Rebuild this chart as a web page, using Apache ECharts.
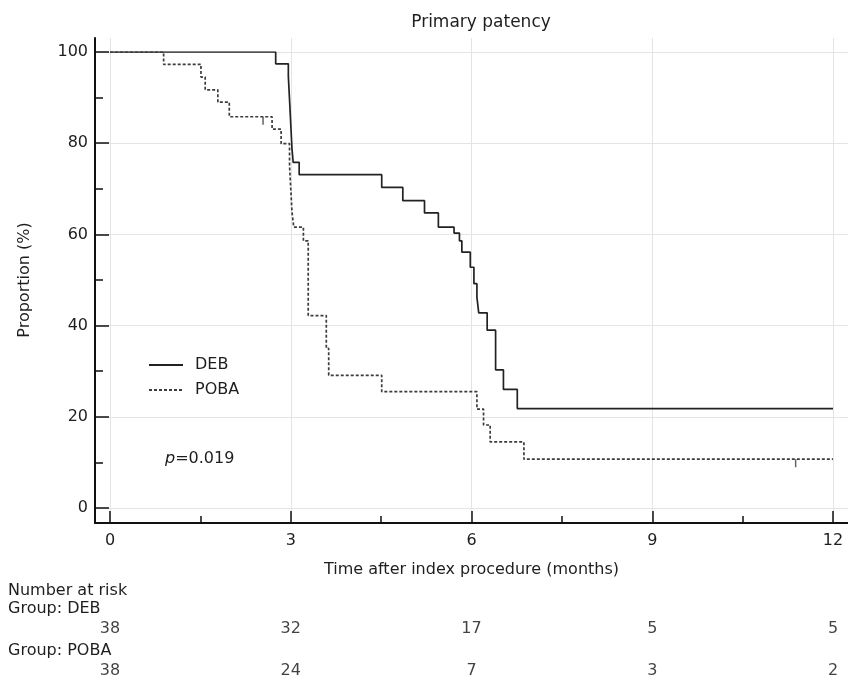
<!DOCTYPE html>
<html>
<head>
<meta charset="utf-8">
<script src="https://cdn.jsdelivr.net/npm/echarts@6/dist/echarts.min.js"></script>
<style>html,body{margin:0;padding:0;background:#fff}#c{width:848px;height:693px}</style>
</head>
<body>
<div id="c"></div>
<script>
// ---- data ----
const monthTicks = [0, 3, 6, 9, 12];
const proportionTicks = [0, 20, 40, 60, 80, 100];
const groups = ['DEB', 'POBA'];

const debTime = [0, 2.75, 2.96, 2.98, 3.00, 3.02, 3.04, 3.14, 4.51, 4.86, 5.22, 5.45, 5.71, 5.80, 5.84, 5.98, 6.04, 6.09, 6.12, 6.26, 6.40, 6.53, 6.76, 12];
const debSurv = [100, 97.4, 94.7, 89.5, 84.2, 78.9, 75.8, 73.1, 70.3, 67.4, 64.7, 61.6, 60.3, 58.6, 56.1, 52.8, 49.2, 46.2, 42.8, 39.0, 30.3, 26.0, 21.8, 21.8];

const pobaTime = [0, 0.89, 1.51, 1.58, 1.79, 1.98, 2.69, 2.84, 2.98, 3.00, 3.02, 3.05, 3.21, 3.29, 3.59, 3.63, 4.51, 6.09, 6.20, 6.31, 6.87, 12];
const pobaSurv = [100, 97.3, 94.5, 91.7, 89.0, 85.8, 83.1, 79.9, 75.0, 70.0, 65.0, 61.6, 58.6, 42.2, 35.0, 29.1, 25.5, 21.7, 18.2, 14.5, 10.7, 10.7];

const pobaCensorTime = [2.54, 11.38];
const pobaCensorSurv = [85.8, 10.7];

const debAtRisk = [38, 32, 17, 5, 5];
const pobaAtRisk = [38, 24, 7, 3, 2];

// ---- build ----
const FONT = 'DejaVu Sans';
const TXT = '#1e1e1e';
const zip = (a, b) => a.map((v, i) => [v, b[i]]);

const chart = echarts.init(document.getElementById('c'), null, {renderer: 'canvas'});
chart.setOption({
  animation: false,
  backgroundColor: '#fff',
  title: {
    text: 'Primary patency', left: 476, top: 9, textAlign: 'center',
    textStyle: {fontFamily: FONT, fontSize: 17, fontWeight: 'normal', color: TXT}
  },
  legend: {
    data: groups, orient: 'vertical', left: 143, top: 352,
    itemWidth: 34, itemHeight: 14, itemGap: 9,
    itemStyle: {opacity: 0, borderWidth: 0},
    textStyle: {fontFamily: FONT, fontSize: 16, color: TXT, padding: [0, 0, 0, 7]}
  },
  grid: [
    {left: 110, right: 15, top: 52, bottom: 185},
    {left: 95, right: 0, top: 38, bottom: 170},
    {left: 110, right: 15, top: 629, bottom: 22}
  ],
  xAxis: [
    {
      gridIndex: 0, type: 'value', min: 0, max: 12, interval: 3, offset: 15,
      axisLine: {show: true, onZero: false, lineStyle: {color: '#111', width: 2}},
      axisTick: {show: true, inside: true, length: 12, lineStyle: {color: '#111', width: 1.5}},
      minorTick: {show: true, splitNumber: 2, length: 7, lineStyle: {color: '#111', width: 1.5}},
      axisLabel: {margin: 10, fontFamily: FONT, fontSize: 16, color: TXT},
      splitLine: {show: false},
      name: 'Time after index procedure (months)', nameLocation: 'middle', nameGap: 39,
      nameTextStyle: {fontFamily: FONT, fontSize: 16, color: TXT}
    },
    {
      gridIndex: 1, type: 'value', min: -0.249, max: 12.249,
      axisLine: {show: true, onZero: false, lineStyle: {color: '#111', width: 2}},
      axisTick: {show: false, customValues: monthTicks},
      axisLabel: {show: false, customValues: monthTicks},
      splitLine: {show: true, lineStyle: {color: '#e4e4e4', width: 1}}
    },
    {
      gridIndex: 2, type: 'value', min: 0, max: 12, show: false
    }
  ],
  yAxis: [
    {
      gridIndex: 0, type: 'value', min: 0, max: 100, interval: 20, offset: 15,
      axisLine: {show: true, onZero: false, lineStyle: {color: '#111', width: 2}},
      axisTick: {show: true, inside: true, length: 14, lineStyle: {color: '#111', width: 1.5}},
      minorTick: {show: true, splitNumber: 2, length: 8, lineStyle: {color: '#111', width: 1.5}},
      axisLabel: {margin: 7, fontFamily: FONT, fontSize: 16, color: TXT},
      splitLine: {show: false},
      name: 'Proportion (%)', nameLocation: 'middle', nameGap: 62, nameRotate: 90,
      nameTextStyle: {fontFamily: FONT, fontSize: 16, color: TXT}
    },
    {
      gridIndex: 1, type: 'value', min: -3.284, max: 103.065,
      axisLine: {show: true, onZero: false, lineStyle: {color: '#111', width: 2}},
      axisTick: {show: false, customValues: proportionTicks},
      axisLabel: {show: false, customValues: proportionTicks},
      splitLine: {show: true, lineStyle: {color: '#e4e4e4', width: 1}}
    },
    {
      gridIndex: 2, type: 'value', min: 0, max: 1, show: false
    }
  ],
  series: [
    {
      name: 'DEB', type: 'line', step: 'end', xAxisIndex: 0, yAxisIndex: 0,
      symbol: 'none', data: zip(debTime, debSurv),
      lineStyle: {color: '#222', width: 1.7, type: 'solid'},
      itemStyle: {color: '#222'}
    },
    {
      name: 'POBA', type: 'line', step: 'end', xAxisIndex: 0, yAxisIndex: 0,
      symbol: 'none', data: zip(pobaTime, pobaSurv),
      lineStyle: {color: '#3c3c3c', width: 1.7, type: [3, 2]},
      itemStyle: {color: '#3c3c3c'}
    },
    {
      type: 'scatter', xAxisIndex: 0, yAxisIndex: 0, silent: true,
      symbol: 'rect', symbolSize: [1.5, 8], symbolOffset: [0, 4],
      itemStyle: {color: '#3c3c3c'}, data: zip(pobaCensorTime, pobaCensorSurv)
    },
    {
      type: 'scatter', xAxisIndex: 2, yAxisIndex: 2, silent: true, symbolSize: 0,
      data: monthTicks.map((m, i) => [m, 1, debAtRisk[i]]),
      label: {show: true, position: 'inside', formatter: p => p.data[2],
        fontFamily: FONT, fontSize: 16, color: '#111'}
    },
    {
      type: 'scatter', xAxisIndex: 2, yAxisIndex: 2, silent: true, symbolSize: 0,
      data: monthTicks.map((m, i) => [m, 0, pobaAtRisk[i]]),
      label: {show: true, position: 'inside', formatter: p => p.data[2],
        fontFamily: FONT, fontSize: 16, color: '#111'}
    }
  ],
  graphic: [
    {type: 'text', left: 8, top: 583, style: {text: 'Number at risk', font: '16px "DejaVu Sans"', fill: TXT}},
    {type: 'text', left: 8, top: 601, style: {text: 'Group: ' + groups[0], font: '16px "DejaVu Sans"', fill: TXT}},
    {type: 'text', left: 8, top: 643, style: {text: 'Group: ' + groups[1], font: '16px "DejaVu Sans"', fill: TXT}},
    {type: 'text', left: 165, top: 451, style: {
      text: '{i|p}=0.019',
      font: '16px "DejaVu Sans"', fill: TXT,
      rich: {i: {fontStyle: 'italic', fontFamily: FONT, fontSize: 16, color: TXT}}
    }}
  ]
});
</script>
</body>
</html>
